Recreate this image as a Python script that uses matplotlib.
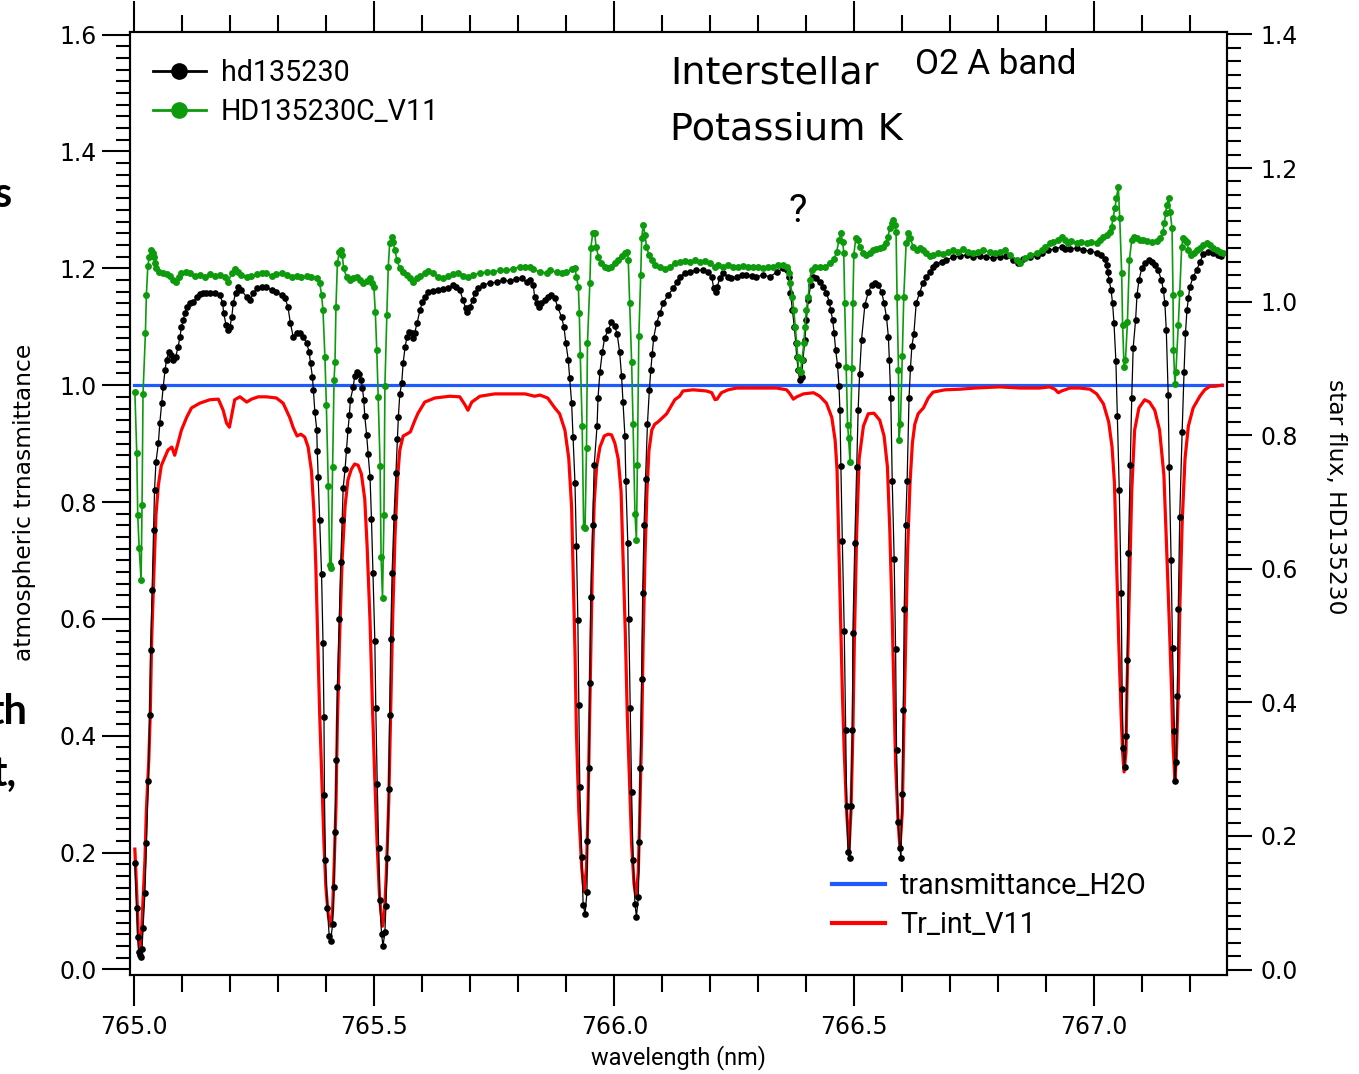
import matplotlib
matplotlib.use('Agg')
import matplotlib.pyplot as plt
from matplotlib.lines import Line2D
from matplotlib.ticker import MultipleLocator, FormatStrFormatter

# ---- hd135230 star flux (right axis) ----
hd_wl = [
    765.001, 765.005, 765.007, 765.009, 765.011, 765.013, 765.016, 765.018, 765.022, 765.025,
    765.029, 765.032, 765.034, 765.037, 765.040, 765.042, 765.045, 765.050, 765.053, 765.057,
    765.060, 765.064, 765.067, 765.072, 765.076, 765.081, 765.086, 765.091, 765.095, 765.098,
    765.102, 765.105, 765.110, 765.116, 765.123, 765.130, 765.136, 765.143, 765.150, 765.157,
    765.168, 765.178, 765.184, 765.186, 765.191, 765.195, 765.199, 765.203, 765.206, 765.211,
    765.216, 765.223, 765.234, 765.241, 765.248, 765.255, 765.265, 765.275, 765.286, 765.296,
    765.307, 765.314, 765.320, 765.325, 765.331, 765.338, 765.345, 765.352, 765.359, 765.364,
    765.367, 765.371, 765.373, 765.376, 765.380, 765.381, 765.383, 765.386, 765.390, 765.393,
    765.395, 765.396, 765.398, 765.402, 765.406, 765.409, 765.413, 765.416, 765.418, 765.421,
    765.423, 765.427, 765.430, 765.433, 765.435, 765.439, 765.442, 765.445, 765.448, 765.450,
    765.456, 765.459, 765.464, 765.468, 765.472, 765.475, 765.478, 765.480, 765.484, 765.487,
    765.491, 765.494, 765.497, 765.501, 765.503, 765.506, 765.509, 765.511, 765.515, 765.518,
    765.522, 765.524, 765.527, 765.530, 765.532, 765.534, 765.537, 765.541, 765.545, 765.548,
    765.550, 765.553, 765.557, 765.560, 765.564, 765.568, 765.573, 765.578, 765.581, 765.584,
    765.589, 765.595, 765.600, 765.605, 765.612, 765.622, 765.633, 765.643, 765.654, 765.664,
    765.671, 765.678, 765.685, 765.690, 765.693, 765.699, 765.705, 765.709, 765.716, 765.727,
    765.741, 765.755, 765.768, 765.782, 765.796, 765.807, 765.817, 765.824, 765.831, 765.834,
    765.838, 765.843, 765.848, 765.855, 765.862, 765.868, 765.876, 765.882, 765.890, 765.895,
    765.899, 765.904, 765.907, 765.911, 765.914, 765.918, 765.921, 765.924, 765.926, 765.928,
    765.932, 765.935, 765.939, 765.943, 765.944, 765.947, 765.949, 765.951, 765.955, 765.958,
    765.964, 765.966, 765.970, 765.975, 765.980, 765.987, 765.994, 766.001, 766.006, 766.011,
    766.015, 766.018, 766.022, 766.024, 766.028, 766.030, 766.033, 766.036, 766.039, 766.043,
    766.046, 766.050, 766.052, 766.054, 766.057, 766.059, 766.062, 766.065, 766.069, 766.073,
    766.076, 766.079, 766.082, 766.088, 766.095, 766.102, 766.112, 766.123, 766.130, 766.136,
    766.147, 766.157, 766.171, 766.185, 766.195, 766.203, 766.207, 766.211, 766.214, 766.220,
    766.227, 766.237, 766.244, 766.255, 766.265, 766.275, 766.286, 766.296, 766.310, 766.324,
    766.338, 766.352, 766.359, 766.364, 766.367, 766.371, 766.375, 766.378, 766.380, 766.383,
    766.386, 766.390, 766.393, 766.397, 766.400, 766.404, 766.409, 766.414, 766.421, 766.428,
    766.435, 766.442, 766.448, 766.451, 766.455, 766.458, 766.461, 766.465, 766.468, 766.470,
    766.472, 766.475, 766.479, 766.482, 766.484, 766.487, 766.490, 766.493, 766.496, 766.497,
    766.501, 766.505, 766.508, 766.511, 766.515, 766.522, 766.529, 766.536, 766.543, 766.550,
    766.557, 766.562, 766.567, 766.571, 766.573, 766.576, 766.579, 766.583, 766.586, 766.588,
    766.591, 766.595, 766.597, 766.600, 766.602, 766.604, 766.607, 766.610, 766.614, 766.617,
    766.620, 766.624, 766.629, 766.636, 766.643, 766.650, 766.657, 766.664, 766.671, 766.682,
    766.692, 766.706, 766.720, 766.734, 766.747, 766.761, 766.775, 766.789, 766.803, 766.817,
    766.831, 766.841, 766.852, 766.866, 766.880, 766.890, 766.904, 766.918, 766.932, 766.939,
    766.949, 766.963, 766.977, 766.991, 767.005, 767.015, 767.022, 767.026, 767.028, 767.031,
    767.035, 767.038, 767.041, 767.045, 767.048, 767.052, 767.056, 767.058, 767.060, 767.063,
    767.066, 767.069, 767.071, 767.075, 767.078, 767.081, 767.086, 767.089, 767.093, 767.099,
    767.106, 767.113, 767.120, 767.126, 767.133, 767.140, 767.144, 767.147, 767.150, 767.154,
    767.156, 767.160, 767.163, 767.167, 767.168, 767.171, 767.173, 767.175, 767.178, 767.183,
    767.187, 767.190, 767.193, 767.196, 767.199, 767.206, 767.213, 767.220, 767.227, 767.237,
    767.248, 767.258, 767.265]
hd_flux = [
    0.159, 0.092, 0.049, 0.026, 0.022, 0.019, 0.031, 0.062, 0.115, 0.189,
    0.282, 0.381, 0.478, 0.568, 0.658, 0.718, 0.760, 0.788, 0.818, 0.848,
    0.872, 0.898, 0.913, 0.925, 0.920, 0.913, 0.917, 0.932, 0.947, 0.962,
    0.972, 0.983, 0.992, 0.998, 0.999, 1.007, 1.011, 1.013, 1.013, 1.013,
    1.013, 1.010, 0.998, 0.983, 0.965, 0.957, 0.962, 0.977, 0.998, 1.013,
    1.022, 1.017, 1.007, 1.002, 1.013, 1.020, 1.022, 1.022, 1.017, 1.014,
    1.010, 1.005, 0.992, 0.968, 0.947, 0.953, 0.953, 0.947, 0.938, 0.925,
    0.908, 0.887, 0.868, 0.835, 0.808, 0.776, 0.737, 0.673, 0.592, 0.489,
    0.378, 0.261, 0.164, 0.092, 0.050, 0.043, 0.068, 0.124, 0.206, 0.314,
    0.423, 0.525, 0.610, 0.673, 0.721, 0.749, 0.778, 0.808, 0.830, 0.853,
    0.872, 0.889, 0.895, 0.892, 0.883, 0.871, 0.853, 0.829, 0.800, 0.772,
    0.737, 0.674, 0.594, 0.492, 0.392, 0.278, 0.182, 0.104, 0.053, 0.035,
    0.056, 0.095, 0.167, 0.270, 0.381, 0.495, 0.594, 0.678, 0.743, 0.794,
    0.827, 0.862, 0.878, 0.908, 0.932, 0.947, 0.954, 0.953, 0.946, 0.953,
    0.968, 0.987, 0.999, 1.007, 1.014, 1.016, 1.017, 1.019, 1.020, 1.025,
    1.022, 1.017, 1.002, 0.990, 0.984, 0.992, 1.002, 1.013, 1.020, 1.025,
    1.028, 1.029, 1.032, 1.031, 1.034, 1.035, 1.029, 1.032, 1.025, 1.007,
    0.998, 0.992, 0.998, 1.002, 1.007, 1.010, 1.005, 0.992, 0.977, 0.962,
    0.938, 0.913, 0.886, 0.848, 0.797, 0.728, 0.634, 0.523, 0.396, 0.273,
    0.168, 0.097, 0.083, 0.116, 0.192, 0.302, 0.429, 0.558, 0.666, 0.755,
    0.814, 0.856, 0.895, 0.925, 0.946, 0.957, 0.969, 0.963, 0.951, 0.925,
    0.889, 0.850, 0.799, 0.731, 0.639, 0.525, 0.392, 0.266, 0.164, 0.098,
    0.079, 0.109, 0.191, 0.302, 0.435, 0.564, 0.666, 0.734, 0.817, 0.868,
    0.898, 0.922, 0.946, 0.968, 0.983, 0.998, 1.010, 1.020, 1.029, 1.037,
    1.043, 1.044, 1.047, 1.047, 1.044, 1.037, 1.020, 1.014, 1.022, 1.035,
    1.043, 1.037, 1.035, 1.037, 1.040, 1.040, 1.038, 1.037, 1.040, 1.037,
    1.044, 1.050, 1.047, 1.037, 1.013, 0.987, 0.962, 0.938, 0.917, 0.898,
    0.883, 0.887, 0.913, 0.943, 0.972, 1.002, 1.025, 1.037, 1.035, 1.029,
    1.022, 1.013, 0.999, 0.987, 0.972, 0.953, 0.928, 0.905, 0.874, 0.838,
    0.754, 0.642, 0.507, 0.359, 0.245, 0.176, 0.167, 0.245, 0.359, 0.504,
    0.639, 0.752, 0.838, 0.892, 0.943, 0.995, 1.014, 1.025, 1.028, 1.025,
    1.014, 0.998, 0.977, 0.947, 0.913, 0.856, 0.731, 0.615, 0.480, 0.329,
    0.221, 0.182, 0.167, 0.263, 0.389, 0.540, 0.666, 0.731, 0.856, 0.901,
    0.934, 0.951, 0.998, 1.013, 1.028, 1.037, 1.044, 1.052, 1.056, 1.059,
    1.062, 1.067, 1.068, 1.070, 1.067, 1.068, 1.067, 1.065, 1.067, 1.068,
    1.062, 1.058, 1.064, 1.067, 1.068, 1.073, 1.077, 1.079, 1.082, 1.079,
    1.079, 1.080, 1.077, 1.076, 1.073, 1.070, 1.064, 1.055, 1.044, 1.032,
    1.017, 0.998, 0.968, 0.911, 0.829, 0.718, 0.564, 0.420, 0.332, 0.303,
    0.350, 0.463, 0.624, 0.755, 0.856, 0.931, 0.972, 1.010, 1.032, 1.050,
    1.058, 1.062, 1.059, 1.055, 1.047, 1.032, 1.017, 0.998, 0.957, 0.860,
    0.752, 0.613, 0.481, 0.357, 0.282, 0.311, 0.409, 0.540, 0.678, 0.805,
    0.895, 0.953, 0.987, 1.005, 1.022, 1.037, 1.047, 1.059, 1.071, 1.074,
    1.073, 1.070, 1.068]

# ---- HD135230C_V11 (right axis) ----
hdc_wl = [
    765.001, 765.005, 765.007, 765.010, 765.014, 765.016, 765.018, 765.023, 765.025, 765.028,
    765.031, 765.034, 765.038, 765.041, 765.043, 765.046, 765.052, 765.060, 765.067, 765.075,
    765.081, 765.086, 765.092, 765.098, 765.107, 765.116, 765.126, 765.136, 765.147, 765.157,
    765.168, 765.178, 765.189, 765.195, 765.203, 765.209, 765.216, 765.223, 765.234, 765.244,
    765.255, 765.265, 765.275, 765.286, 765.296, 765.307, 765.317, 765.328, 765.338, 765.348,
    765.359, 765.369, 765.380, 765.386, 765.390, 765.393, 765.397, 765.400, 765.404, 765.407,
    765.410, 765.413, 765.416, 765.418, 765.420, 765.423, 765.427, 765.430, 765.433, 765.436,
    765.442, 765.449, 765.456, 765.463, 765.470, 765.477, 765.484, 765.491, 765.496, 765.499,
    765.502, 765.505, 765.508, 765.512, 765.514, 765.517, 765.520, 765.522, 765.526, 765.529,
    765.532, 765.536, 765.539, 765.543, 765.547, 765.553, 765.560, 765.567, 765.574, 765.581,
    765.588, 765.595, 765.605, 765.612, 765.623, 765.633, 765.643, 765.654, 765.664, 765.675,
    765.685, 765.695, 765.706, 765.720, 765.734, 765.748, 765.761, 765.775, 765.789, 765.803,
    765.814, 765.824, 765.831, 765.845, 765.859, 765.866, 765.880, 765.890, 765.900, 765.911,
    765.918, 765.921, 765.925, 765.927, 765.929, 765.933, 765.936, 765.939, 765.942, 765.944,
    765.949, 765.951, 765.955, 765.959, 765.962, 765.967, 765.973, 765.980, 765.987, 765.994,
    766.001, 766.008, 766.015, 766.022, 766.027, 766.029, 766.032, 766.036, 766.039, 766.043,
    766.046, 766.048, 766.051, 766.055, 766.057, 766.060, 766.064, 766.067, 766.072, 766.078,
    766.084, 766.095, 766.105, 766.116, 766.126, 766.136, 766.147, 766.157, 766.168, 766.178,
    766.189, 766.199, 766.209, 766.216, 766.227, 766.237, 766.248, 766.258, 766.268, 766.279,
    766.289, 766.300, 766.310, 766.320, 766.331, 766.341, 766.352, 766.360, 766.364, 766.367,
    766.371, 766.374, 766.377, 766.380, 766.382, 766.384, 766.388, 766.391, 766.395, 766.397,
    766.400, 766.404, 766.407, 766.411, 766.418, 766.428, 766.439, 766.449, 766.458, 766.463,
    766.468, 766.472, 766.476, 766.478, 766.480, 766.483, 766.486, 766.488, 766.491, 766.495,
    766.497, 766.499, 766.503, 766.507, 766.511, 766.518, 766.525, 766.532, 766.539, 766.546,
    766.553, 766.560, 766.566, 766.570, 766.574, 766.578, 766.581, 766.584, 766.587, 766.589,
    766.592, 766.593, 766.596, 766.600, 766.603, 766.608, 766.612, 766.616, 766.623, 766.630,
    766.636, 766.643, 766.650, 766.657, 766.664, 766.675, 766.685, 766.696, 766.706, 766.716,
    766.727, 766.737, 766.748, 766.758, 766.769, 766.783, 766.793, 766.803, 766.814, 766.824,
    766.838, 766.845, 766.855, 766.866, 766.880, 766.890, 766.897, 766.907, 766.914, 766.925,
    766.932, 766.939, 766.945, 766.952, 766.963, 766.973, 766.984, 766.994, 767.005, 767.012,
    767.019, 767.026, 767.032, 767.036, 767.039, 767.043, 767.046, 767.050, 767.053, 767.057,
    767.059, 767.062, 767.065, 767.069, 767.073, 767.078, 767.082, 767.089, 767.096, 767.102,
    767.109, 767.120, 767.130, 767.137, 767.143, 767.146, 767.149, 767.151, 767.155, 767.158,
    767.162, 767.164, 767.165, 767.168, 767.170, 767.175, 767.178, 767.182, 767.185, 767.189,
    767.193, 767.196, 767.201, 767.207, 767.214, 767.220, 767.227, 767.234, 767.241, 767.248,
    767.255, 767.262, 767.268]
hdc_flux = [
    0.865, 0.773, 0.680, 0.631, 0.583, 0.695, 0.862, 0.953, 1.010, 1.053,
    1.067, 1.077, 1.073, 1.067, 1.058, 1.050, 1.044, 1.043, 1.041, 1.038,
    1.032, 1.029, 1.037, 1.043, 1.044, 1.043, 1.038, 1.040, 1.037, 1.041,
    1.038, 1.040, 1.037, 1.029, 1.043, 1.049, 1.044, 1.040, 1.037, 1.038,
    1.041, 1.043, 1.043, 1.038, 1.041, 1.043, 1.040, 1.037, 1.038, 1.037,
    1.038, 1.037, 1.035, 1.028, 1.010, 0.987, 0.917, 0.845, 0.724, 0.606,
    0.601, 0.752, 0.883, 0.910, 0.992, 1.058, 1.074, 1.077, 1.070, 1.050,
    1.037, 1.032, 1.035, 1.037, 1.032, 1.028, 1.031, 1.035, 1.028, 1.022,
    0.984, 0.928, 0.857, 0.754, 0.618, 0.556, 0.680, 0.874, 0.980, 1.052,
    1.088, 1.097, 1.089, 1.077, 1.062, 1.050, 1.044, 1.040, 1.035, 1.029,
    1.035, 1.038, 1.043, 1.046, 1.043, 1.037, 1.035, 1.038, 1.041, 1.043,
    1.038, 1.037, 1.040, 1.043, 1.044, 1.044, 1.047, 1.047, 1.049, 1.052,
    1.052, 1.052, 1.049, 1.044, 1.043, 1.047, 1.044, 1.043, 1.044, 1.049,
    1.050, 1.037, 1.022, 0.983, 0.920, 0.814, 0.663, 0.661, 0.781, 0.938,
    1.028, 1.080, 1.103, 1.103, 1.082, 1.067, 1.058, 1.052, 1.050, 1.052,
    1.058, 1.062, 1.068, 1.073, 1.074, 1.062, 0.998, 0.910, 0.817, 0.682,
    0.643, 0.755, 0.948, 1.040, 1.095, 1.115, 1.100, 1.082, 1.070, 1.062,
    1.055, 1.052, 1.049, 1.052, 1.058, 1.059, 1.061, 1.059, 1.062, 1.059,
    1.061, 1.058, 1.052, 1.055, 1.052, 1.055, 1.052, 1.052, 1.053, 1.052,
    1.052, 1.052, 1.050, 1.052, 1.052, 1.055, 1.055, 1.052, 1.043, 1.028,
    1.007, 0.987, 0.962, 0.938, 0.917, 0.898, 0.895, 0.913, 0.938, 0.962,
    0.987, 1.007, 1.032, 1.047, 1.052, 1.052, 1.052, 1.058, 1.064, 1.074,
    1.092, 1.103, 1.089, 1.073, 0.998, 0.902, 0.816, 0.796, 0.760, 0.901,
    0.998, 1.070, 1.095, 1.092, 1.082, 1.073, 1.070, 1.073, 1.077, 1.079,
    1.080, 1.082, 1.088, 1.097, 1.110, 1.118, 1.122, 1.115, 1.104, 1.007,
    0.898, 0.793, 0.817, 0.919, 1.007, 1.088, 1.103, 1.095, 1.082, 1.077,
    1.080, 1.077, 1.073, 1.068, 1.070, 1.073, 1.071, 1.074, 1.077, 1.074,
    1.079, 1.074, 1.073, 1.074, 1.077, 1.074, 1.073, 1.074, 1.077, 1.070,
    1.062, 1.058, 1.065, 1.070, 1.073, 1.077, 1.082, 1.088, 1.089, 1.092,
    1.097, 1.092, 1.088, 1.091, 1.088, 1.089, 1.088, 1.089, 1.088, 1.092,
    1.097, 1.100, 1.104, 1.112, 1.125, 1.140, 1.155, 1.172, 1.125, 1.043,
    0.965, 0.902, 0.913, 0.969, 1.062, 1.092, 1.097, 1.095, 1.092, 1.092,
    1.091, 1.089, 1.091, 1.095, 1.104, 1.118, 1.133, 1.145, 1.155, 1.134,
    1.110, 1.010, 0.928, 0.877, 0.895, 0.965, 1.013, 1.082, 1.095, 1.092,
    1.089, 1.077, 1.070, 1.073, 1.077, 1.080, 1.085, 1.088, 1.085, 1.080,
    1.077, 1.074, 1.073]

# ---- Tr_int_V11 (left axis) ----
v11_wl = [
    765.001, 765.005, 765.008, 765.011, 765.015, 765.018, 765.022, 765.025, 765.030, 765.033,
    765.036, 765.041, 765.045, 765.050, 765.056, 765.059, 765.070, 765.078, 765.084, 765.091,
    765.098, 765.109, 765.119, 765.136, 765.157, 765.175, 765.185, 765.192, 765.198, 765.203,
    765.209, 765.220, 765.234, 765.244, 765.258, 765.275, 765.296, 765.310, 765.324, 765.331,
    765.339, 765.347, 765.355, 765.362, 765.369, 765.374, 765.378, 765.382, 765.386, 765.391,
    765.395, 765.399, 765.404, 765.409, 765.413, 765.416, 765.420, 765.423, 765.428, 765.433,
    765.439, 765.445, 765.452, 765.459, 765.466, 765.473, 765.480, 765.485, 765.491, 765.496,
    765.501, 765.506, 765.511, 765.517, 765.521, 765.525, 765.530, 765.534, 765.538, 765.543,
    765.548, 765.553, 765.560, 765.567, 765.575, 765.584, 765.591, 765.605, 765.626, 765.657,
    765.678, 765.689, 765.695, 765.703, 765.720, 765.751, 765.782, 765.814, 765.834, 765.845,
    765.861, 765.876, 765.886, 765.897, 765.905, 765.911, 765.914, 765.918, 765.921, 765.926,
    765.932, 765.937, 765.942, 765.945, 765.948, 765.951, 765.954, 765.958, 765.963, 765.970,
    765.979, 765.987, 765.994, 766.001, 766.008, 766.014, 766.018, 766.023, 766.027, 766.032,
    766.036, 766.041, 766.045, 766.050, 766.053, 766.057, 766.060, 766.064, 766.068, 766.072,
    766.078, 766.084, 766.091, 766.100, 766.109, 766.116, 766.126, 766.136, 766.143, 766.164,
    766.192, 766.203, 766.210, 766.214, 766.223, 766.237, 766.255, 766.275, 766.296, 766.317,
    766.338, 766.359, 766.366, 766.373, 766.380, 766.394, 766.415, 766.428, 766.442, 766.453,
    766.460, 766.464, 766.467, 766.471, 766.475, 766.479, 766.484, 766.489, 766.493, 766.497,
    766.500, 766.505, 766.510, 766.519, 766.529, 766.541, 766.553, 766.562, 766.569, 766.574,
    766.579, 766.583, 766.586, 766.591, 766.595, 766.600, 766.603, 766.607, 766.611, 766.616,
    766.621, 766.626, 766.633, 766.644, 766.654, 766.664, 766.689, 766.720, 766.751, 766.803,
    766.845, 766.886, 766.907, 766.918, 766.925, 766.932, 766.949, 766.970, 766.991, 767.005,
    767.019, 767.030, 767.037, 767.042, 767.046, 767.051, 767.056, 767.059, 767.062, 767.066,
    767.068, 767.073, 767.078, 767.084, 767.093, 767.105, 767.115, 767.126, 767.136, 767.145,
    767.150, 767.156, 767.161, 767.164, 767.168, 767.171, 767.175, 767.178, 767.183, 767.189,
    767.196, 767.206, 767.220, 767.230, 767.241, 767.251, 767.266]
v11_tr = [
    0.206, 0.131, 0.062, 0.033, 0.062, 0.119, 0.187, 0.273, 0.358, 0.435,
    0.564, 0.687, 0.778, 0.829, 0.862, 0.868, 0.889, 0.894, 0.880, 0.901,
    0.923, 0.945, 0.961, 0.969, 0.975, 0.976, 0.957, 0.935, 0.928, 0.949,
    0.975, 0.980, 0.971, 0.976, 0.980, 0.980, 0.978, 0.969, 0.944, 0.927,
    0.913, 0.916, 0.911, 0.894, 0.853, 0.785, 0.692, 0.566, 0.439, 0.312,
    0.216, 0.141, 0.093, 0.074, 0.102, 0.172, 0.280, 0.425, 0.578, 0.704,
    0.793, 0.838, 0.856, 0.865, 0.863, 0.848, 0.805, 0.723, 0.596, 0.451,
    0.324, 0.210, 0.121, 0.074, 0.097, 0.165, 0.287, 0.439, 0.596, 0.742,
    0.838, 0.889, 0.913, 0.916, 0.920, 0.939, 0.952, 0.971, 0.978, 0.981,
    0.980, 0.966, 0.957, 0.971, 0.981, 0.985, 0.985, 0.985, 0.981, 0.983,
    0.978, 0.961, 0.951, 0.923, 0.875, 0.791, 0.682, 0.545, 0.406, 0.270,
    0.174, 0.133, 0.174, 0.270, 0.406, 0.545, 0.682, 0.798, 0.860, 0.894,
    0.913, 0.916, 0.915, 0.901, 0.874, 0.819, 0.709, 0.572, 0.434, 0.311,
    0.215, 0.146, 0.126, 0.167, 0.270, 0.406, 0.559, 0.709, 0.819, 0.887,
    0.923, 0.933, 0.937, 0.944, 0.951, 0.961, 0.975, 0.981, 0.990, 0.992,
    0.990, 0.987, 0.975, 0.976, 0.987, 0.992, 0.995, 0.995, 0.995, 0.995,
    0.995, 0.992, 0.985, 0.976, 0.980, 0.985, 0.987, 0.981, 0.969, 0.945,
    0.906, 0.855, 0.750, 0.613, 0.477, 0.372, 0.270, 0.204, 0.270, 0.406,
    0.559, 0.750, 0.874, 0.930, 0.951, 0.952, 0.940, 0.913, 0.860, 0.750,
    0.600, 0.461, 0.352, 0.256, 0.208, 0.270, 0.406, 0.559, 0.716, 0.832,
    0.901, 0.933, 0.951, 0.961, 0.978, 0.988, 0.992, 0.993, 0.995, 0.997,
    0.995, 0.995, 0.997, 0.993, 0.987, 0.990, 0.995, 0.995, 0.993, 0.985,
    0.968, 0.937, 0.894, 0.832, 0.709, 0.559, 0.434, 0.372, 0.338, 0.372,
    0.477, 0.648, 0.819, 0.923, 0.961, 0.975, 0.971, 0.957, 0.923, 0.846,
    0.737, 0.600, 0.477, 0.386, 0.323, 0.365, 0.477, 0.613, 0.764, 0.874,
    0.930, 0.961, 0.981, 0.992, 0.998, 0.998, 1.000]

# ---- transmittance_H2O (left axis) ----
h2o_wl = [765.0, 767.266]
h2o_tr = [1.0, 1.0]

narrow = ['Roboto', 'DejaVu Sans']
plt.rcParams['font.family'] = ['DejaVu Sans']

fig = plt.figure(figsize=(13.59, 10.74), dpi=100)
ax = fig.add_axes([0.0957, 0.0922, 0.8070, 0.8780])
ax2 = ax.twinx()

ax.plot(h2o_wl, h2o_tr, color='#1f5aff', lw=2.3)
ax.plot(v11_wl, v11_tr, color='#ff0000', lw=2.3)
ax2.plot(hd_wl, hd_flux, color='black', lw=0.9, marker='o', ms=4.8, mew=0)
ax2.plot(hdc_wl, hdc_flux, color='#0d9a0d', lw=1.2, marker='o', ms=5.0, mew=0)

ax.set_xlim(764.991, 767.276)
ax.set_ylim(-0.0094, 1.6043)
ax2.set_ylim(-0.0082, 1.4037)

ax.xaxis.set_major_locator(MultipleLocator(0.5))
ax.xaxis.set_minor_locator(MultipleLocator(0.1))
ax.xaxis.set_major_formatter(FormatStrFormatter('%.1f'))
for a in (ax, ax2):
    a.yaxis.set_major_locator(MultipleLocator(0.2))
    a.yaxis.set_minor_locator(MultipleLocator(0.02))
    a.yaxis.set_major_formatter(FormatStrFormatter('%.1f'))
    for s in a.spines.values():
        s.set_linewidth(1.5)

ax.tick_params(axis='x', which='both', top=True, direction='out', width=1.5, labelsize=17, pad=7)
ax.tick_params(axis='x', which='major', length=22)
ax.tick_params(axis='x', which='minor', length=12)
ax.tick_params(axis='y', which='both', direction='out', width=1.5, labelsize=17, pad=4)
ax.tick_params(axis='y', which='major', length=20)
ax.tick_params(axis='y', which='minor', length=10)
ax2.tick_params(axis='y', which='both', direction='out', width=1.5, labelsize=17, pad=6)
ax2.tick_params(axis='y', which='major', length=18)
ax2.tick_params(axis='y', which='minor', length=10)

fig.text(25 / 1359, 1 - 502 / 1074, 'atmospheric trnasmittance', rotation=90,
         ha='center', va='center', fontsize=16.8)
fig.text(1335 / 1359, 1 - 497 / 1074, 'star flux, HD135230', rotation=270,
         ha='center', va='center', fontsize=16.8)
fig.text(678 / 1359, 1 - 1058 / 1074, 'wavelength (nm)', ha='center', va='center',
         fontsize=16.9, family=narrow)

# annotations
fig.text(670 / 1359, 1 - 73 / 1074, 'Interstellar', ha='left', va='center', fontsize=27.5)
fig.text(670 / 1359, 1 - 130 / 1074, 'Potassium K', ha='left', va='center', fontsize=27.5)
fig.text(915 / 1359, 1 - 65 / 1074, 'O2 A band', ha='left', va='center', fontsize=25.2, family=narrow)
fig.text(798 / 1359, 1 - 211 / 1074, '?', ha='center', va='center', fontsize=28, family=narrow)

# slide text cut off at the left edge
fig.text(12 / 1359, 1 - 195 / 1074, 's', ha='right', va='center', fontsize=30,
         fontweight='bold', family=['Lato', 'DejaVu Sans'])
fig.text(27 / 1359, 1 - 712 / 1074, 'th', ha='right', va='center', fontsize=30,
         fontweight='bold', family=['Lato', 'DejaVu Sans'])
fig.text(16 / 1359, 1 - 774 / 1074, 't,', ha='right', va='center', fontsize=30,
         fontweight='bold', family=['Lato', 'DejaVu Sans'])

# legends
h_top = [Line2D([], [], color='black', lw=2, marker='o', ms=11),
         Line2D([], [], color='#0d9a0d', lw=2, marker='o', ms=11)]
leg1 = ax2.legend(h_top, ['hd135230', 'HD135230C_V11'], loc='upper left',
                  bbox_to_anchor=(152.7 / 1359, 1 - 59 / 1074), bbox_transform=fig.transFigure,
                  frameon=False, borderpad=0, borderaxespad=0, handlelength=1.87,
                  handletextpad=0.52, labelspacing=0.4, prop={'family': narrow, 'size': 20.6})

h_bot = [Line2D([], [], color='#1f5aff', lw=3),
         Line2D([], [], color='#ff0000', lw=3)]
leg2 = ax2.legend(h_bot, ['transmittance_H2O', 'Tr_int_V11'], loc='upper left',
                  bbox_to_anchor=(831.7 / 1359, 1 - 872 / 1074), bbox_transform=fig.transFigure,
                  frameon=False, borderpad=0, borderaxespad=0, handlelength=1.87,
                  handletextpad=0.52, labelspacing=0.4, prop={'family': narrow, 'size': 20.6})
ax2.add_artist(leg1)

fig.savefig('out.png', dpi=100)
